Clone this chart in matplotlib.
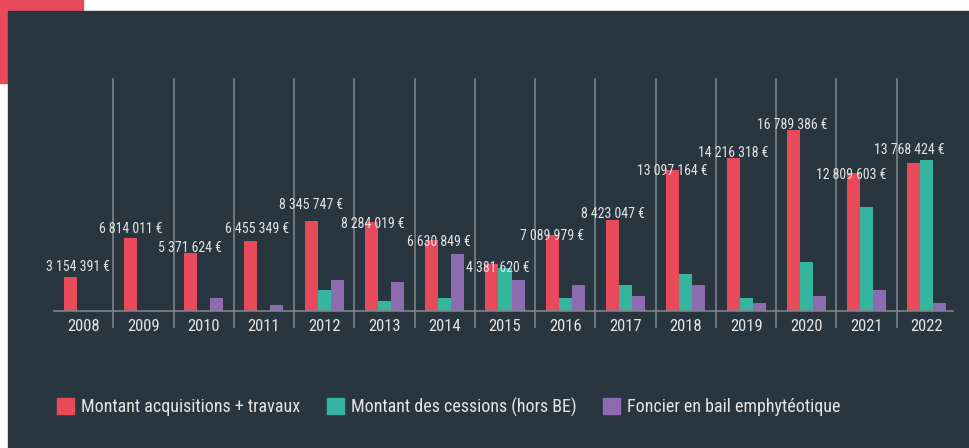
import matplotlib
matplotlib.use("Agg")
import matplotlib.pyplot as plt
from matplotlib import font_manager
from matplotlib.patches import Rectangle, Patch
import numpy as np

years = ["2008", "2009", "2010", "2011", "2012", "2013", "2014", "2015",
         "2016", "2017", "2018", "2019", "2020", "2021", "2022"]
acquisitions = [3154391, 6814011, 5371624, 6455349, 8345747, 8284019, 6630849, 4381620,
                7089979, 8423047, 13097164, 14216318, 16789386, 12809603, 13768424]
cessions = [0, 0, 0, 0, 1950000, 930000, 1200000, 4000000,
            1200000, 2400000, 3400000, 1200000, 4550000, 9650000, 14000000]
foncier = [0, 0, 1200000, 550000, 2900000, 2700000, 5300000, 2900000,
           2400000, 1400000, 2400000, 750000, 1400000, 1950000, 750000]
labels = ["Montant acquisitions + travaux", "Montant des cessions (hors BE)",
          "Foncier en bail emphytéotique"]

# label placement relative to the top of the red bar (pixels, +x right, +y up)
lab_dx = [8, 0, -1, 6, 0, 1.5, 7.5, 6, 0, 0, 0, 0, -1, -2.5, -5]
lab_dy = [9.5, 8.5, 5.5, 12.5, 16.5, -2.5, -2, -4, -1, 6.5, -1, 5, 5.5, -2, 12.5]

names = {f.name for f in font_manager.fontManager.ttflist}
font = "DejaVu Sans"
for cand in ["Roboto Condensed", "Liberation Sans Narrow", "DejaVu Sans Condensed", "Roboto"]:
    if cand in names:
        font = cand
        break
plt.rcParams["font.family"] = [font, "DejaVu Sans"]

bg = "#293640"
red = "#e84a5a"
teal = "#36b59e"
purple = "#8c6bb1"
txt = "#e4e4e4"
grid = "#7d8288"

W, H = 969, 448
fig = plt.figure(figsize=(W / 100, H / 100), dpi=100, facecolor="white")
# decorative frame
fig.patches.append(Rectangle((0, 1 - 83 / H), 83 / W, 83 / H, transform=fig.transFigure,
                             color=red, zorder=-2))
fig.patches.append(Rectangle((8 / W, 0), 1 - 8 / W, 1 - 11 / H, transform=fig.transFigure,
                             color=bg, zorder=-1))

ax = fig.add_axes([53 / W, (H - 311) / H, 904 / W, 232 / H])
ax.set_facecolor("none")
x = np.arange(len(years))
w = 0.216
ax.bar(x - w, acquisitions, w, color=red, zorder=3)
ax.bar(x, cessions, w, color=teal, zorder=3)
ax.bar(x + w, foncier, w, color=purple, zorder=3)

ymax = 232 * 92760
ax.set_xlim(-0.5, len(years) - 0.5)
ax.set_ylim(0, ymax)

# separators between years
for i in range(1, len(years)):
    ax.plot([i - 0.5, i - 0.5], [-16 * 92760, ymax], color=grid, lw=1.2,
            clip_on=False, zorder=2)
ax.plot([-0.48, len(years) - 0.56], [0, 0], color=grid, lw=1.2, clip_on=False, zorder=4)

for i, v in enumerate(acquisitions):
    s = f"{v:,}".replace(",", " ") + " €"
    ax.annotate(s, (x[i] - w, v), xytext=(lab_dx[i] * 0.72, lab_dy[i] * 0.72),
                textcoords="offset points", ha="center", va="center",
                color=txt, fontsize=10, zorder=5)

ax.set_xticks(x)
ax.set_xticklabels(years, color=txt, fontsize=12)
ax.tick_params(axis="x", length=0, pad=6)
ax.set_yticks([])
for sp in ax.spines.values():
    sp.set_visible(False)

handles = [Patch(color=c) for c in (red, teal, purple)]
fig.legend(handles, labels, loc="center left", bbox_to_anchor=(57 / W, 1 - 407 / H),
           ncol=3, frameon=False, fontsize=13, labelcolor=txt, handlelength=0.95,
           handleheight=0.95, handletextpad=0.4, columnspacing=1.45, borderpad=0,
           borderaxespad=0)

fig.savefig("out.png", dpi=100, facecolor="white")
